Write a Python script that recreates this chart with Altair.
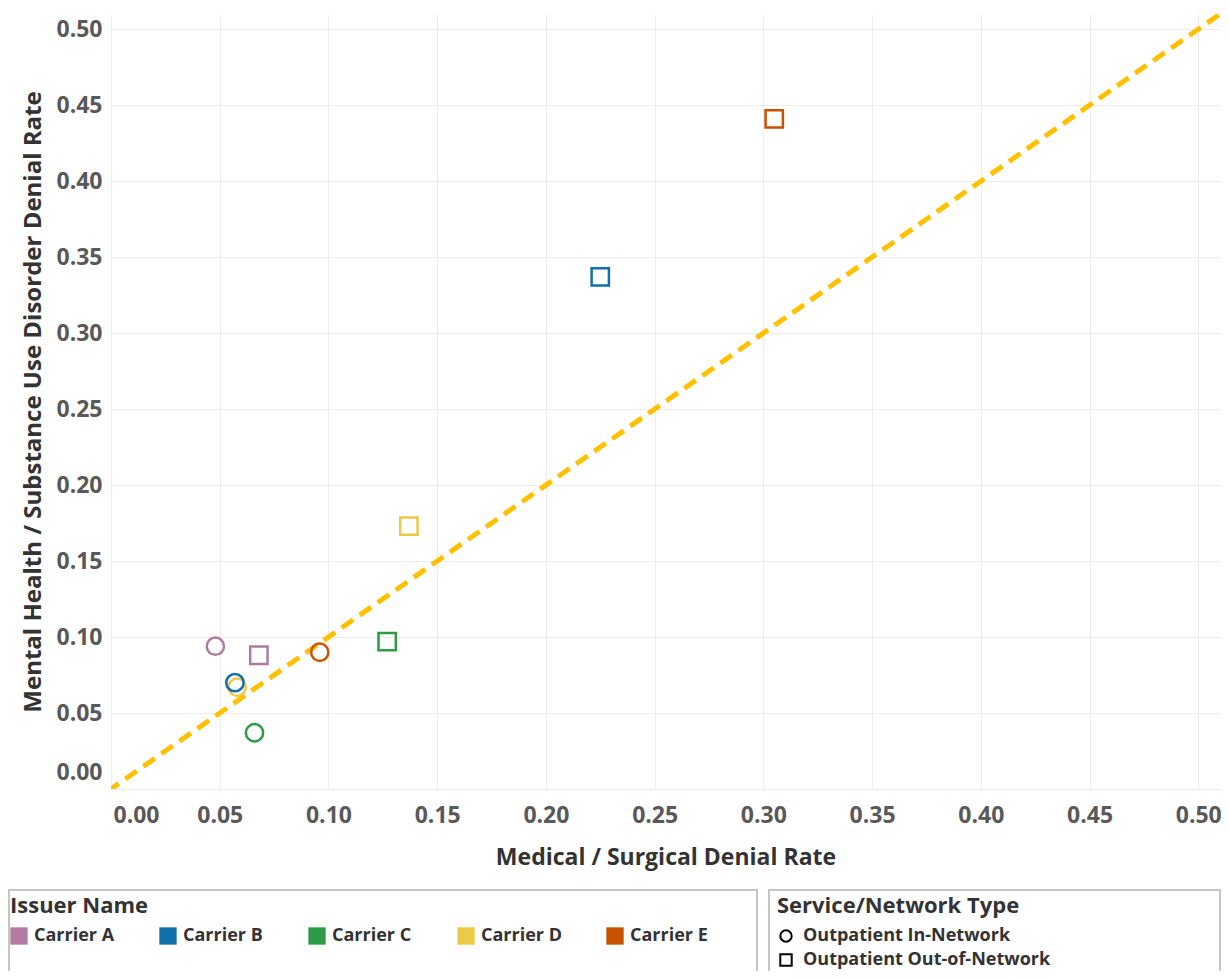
import altair as alt
import pandas as pd

# ---- data ----
issuers = ["Carrier A", "Carrier A", "Carrier D", "Carrier B", "Carrier B",
           "Carrier C", "Carrier C", "Carrier D", "Carrier E", "Carrier E"]
service_types = ["Outpatient In-Network", "Outpatient Out-of-Network",
                 "Outpatient In-Network", "Outpatient In-Network", "Outpatient Out-of-Network",
                 "Outpatient In-Network", "Outpatient Out-of-Network", "Outpatient Out-of-Network",
                 "Outpatient In-Network", "Outpatient Out-of-Network"]
med_surg_rate = [0.048, 0.068, 0.058, 0.057, 0.225, 0.066, 0.127, 0.137, 0.096, 0.305]
mh_sud_rate = [0.094, 0.088, 0.067, 0.070, 0.337, 0.037, 0.097, 0.173, 0.090, 0.441]

carrier_names = ["Carrier A", "Carrier B", "Carrier C", "Carrier D", "Carrier E"]
carrier_colors = ["#b07aa1", "#1170aa", "#2e9a46", "#edc948", "#c85200"]
type_names = ["Outpatient In-Network", "Outpatient Out-of-Network"]
type_shapes = ["circle", "square"]

tick_values = [0.0, 0.05, 0.10, 0.15, 0.20, 0.25, 0.30, 0.35, 0.40, 0.45, 0.50]
axis_domain = [0.0, 0.51]
parity_line = [-0.01, 0.52]

points_df = pd.DataFrame({
    "Issuer Name": issuers,
    "Service/Network Type": service_types,
    "Medical / Surgical Denial Rate": med_surg_rate,
    "Mental Health / Substance Use Disorder Denial Rate": mh_sud_rate,
})
line_df = pd.DataFrame({"x": parity_line, "y": parity_line})
box_df = pd.DataFrame({"box": ["one"]})

FONT = "Open Sans"

x_scale = alt.Scale(domain=axis_domain, nice=False, zero=False)
y_scale = alt.Scale(domain=axis_domain, nice=False, zero=False)
carrier_scale = alt.Scale(domain=carrier_names, range=carrier_colors)

x_axis = alt.Axis(values=tick_values, format=".2f", labelFlush=True, labelFlushOffset=-2,
                  labelPadding=15, titlePadding=19, titleFontSize=23)
y_axis = alt.Axis(values=tick_values, format=".2f", labelFlush=True, labelFlushOffset=-5,
                  labelPadding=9, titlePadding=10, titleFontSize=24)

XF = "Medical / Surgical Denial Rate"
YF = "Mental Health / Substance Use Disorder Denial Rate"

line = alt.Chart(line_df).mark_line(
    color="#ffc000", strokeWidth=5, strokeDash=[14, 8], clip=True
).encode(
    x=alt.X("x:Q", scale=x_scale, axis=x_axis, title=XF),
    y=alt.Y("y:Q", scale=y_scale, axis=y_axis, title=YF),
)

points = alt.Chart(points_df).mark_point(
    filled=False, strokeWidth=2.5, size=300, opacity=1
).encode(
    x=alt.X(XF + ":Q", scale=x_scale),
    y=alt.Y(YF + ":Q", scale=y_scale),
    stroke=alt.Stroke("Issuer Name:N", scale=carrier_scale, legend=None),
    shape=alt.Shape(
        "Service/Network Type:N",
        scale=alt.Scale(domain=type_names, range=type_shapes),
        legend=alt.Legend(
            orient="none", legendX=666, legendY=882, direction="vertical",
            symbolSize=130, symbolStrokeColor="black", symbolFillColor="transparent",
            symbolStrokeWidth=2, symbolOpacity=1, labelOffset=8, rowPadding=4,
            titlePadding=9,
        ),
    ),
)

legend_layer = alt.Chart(points_df).mark_square(
    filled=True, size=0, opacity=0
).encode(
    x=alt.X(XF + ":Q", scale=x_scale),
    y=alt.Y(YF + ":Q", scale=y_scale),
    fill=alt.Fill(
        "Issuer Name:N", scale=carrier_scale,
        legend=alt.Legend(
            orient="none", legendX=-101, legendY=882, direction="horizontal",
            columns=5, gridAlign="all", columnPadding=44, symbolType="square",
            symbolSize=300, symbolStrokeWidth=0, symbolOpacity=1,
            labelOffset=6, titlePadding=9,
        ),
    ),
)

box_style = dict(filled=False, fillOpacity=0, stroke="#c6c6c0", strokeWidth=2, clip=False)
box_left = alt.Chart(box_df).mark_rect(**box_style).encode(
    x=alt.value(-102), x2=alt.value(646), y=alt.value(876), y2=alt.value(1000)
)
box_right = alt.Chart(box_df).mark_rect(**box_style).encode(
    x=alt.value(658), x2=alt.value(1109), y=alt.value(876), y2=alt.value(1000)
)

chart = alt.layer(line, legend_layer, points, box_left, box_right).properties(
    width=1109, height=775,
    autosize=alt.AutoSizeParams(type="none"),
    padding={"left": 103, "top": 6, "right": 1, "bottom": 182},
).configure_view(stroke=None).configure_axis(
    grid=True, gridColor="#ececec", gridWidth=1, domain=False, ticks=False,
    labelFont=FONT, labelFontSize=23, labelFontWeight="bold", labelColor="#595959",
    titleFont=FONT, titleFontWeight="bold", titleColor="#333333",
).configure_legend(
    titleFont=FONT, titleFontSize=22, titleFontWeight="bold", titleColor="#333333",
    labelFont=FONT, labelFontSize=18, labelFontWeight="bold", labelColor="#333333",
    padding=0, labelLimit=400, titleLimit=400,
)

chart.save("out.html", embed_options={"renderer": "svg", "actions": False})
